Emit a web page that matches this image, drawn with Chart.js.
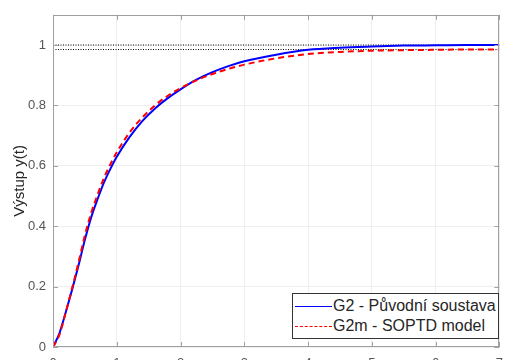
<!DOCTYPE html>
<html>
<head>
<meta charset="utf-8">
<script src="https://cdn.jsdelivr.net/npm/chart.js@4/dist/chart.umd.min.js"></script>
<style>
  html, body { margin: 0; padding: 0; background: #fff; overflow: hidden; }
  #wrap { position: relative; width: 512px; height: 372px; }
  #legend {
    position: absolute; left: 292px; top: 293px; width: 207px; height: 46px;
    border: 1px solid #333; background: #fff; box-sizing: border-box;
    font-family: "Liberation Sans", Arial, sans-serif; font-size: 16px; color: #262626;
  }
  .row { position: absolute; left: 0; height: 20px; line-height: 20px; white-space: nowrap; }
  .sample { position: absolute; left: 2px; top: 10px; width: 37px; height: 0; }
  .lbl { position: absolute; left: 40px; top: 0; }
</style>
</head>
<body>
<div id="wrap">
  <canvas id="c" width="512" height="372"></canvas>
  <div id="legend"></div>
</div>
<script>
// ---- data ----
const tValues    = [0, 0.1, 0.2, 0.3, 0.4, 0.5, 0.6, 0.7, 0.8, 0.9, 1.0, 1.2, 1.4, 1.6, 1.8, 2.0, 2.25, 2.5, 2.75, 3.0, 3.5, 4.0, 4.5, 5.0, 5.5, 6.0, 6.5, 7.0];
const g2Values   = [0, 0.045, 0.115, 0.19, 0.27, 0.355, 0.43, 0.49, 0.545, 0.59, 0.63, 0.695, 0.748, 0.79, 0.824, 0.853, 0.885, 0.91, 0.93, 0.946, 0.968, 0.984, 0.991, 0.995, 0.998, 0.999, 1.0, 1.0];
const g2mValues  = [0, 0.04, 0.115, 0.195, 0.28, 0.37, 0.445, 0.505, 0.56, 0.605, 0.645, 0.71, 0.76, 0.8, 0.832, 0.857, 0.883, 0.904, 0.921, 0.935, 0.956, 0.970, 0.977, 0.981, 0.983, 0.984, 0.985, 0.985];
const refLevels  = [1.0, 0.985];
const xRange     = [0, 7];
const xTicks     = [0, 1, 2, 3, 4, 5, 6, 7];
const yTicks     = [0, 0.2, 0.4, 0.6, 0.8, 1];
const seriesNames = ['G2 - Původní soustava', 'G2m - SOPTD model'];
const seriesColors = ['#0000ff', '#ff0000'];
const yTitle     = 'Výstup y(t)';

const FONT = '"Liberation Sans", Arial, sans-serif';
const toPts = (ys) => tValues.map((t, i) => ({ x: t, y: ys[i] }));

const datasets = [
  { label: seriesNames[0], data: toPts(g2Values), borderColor: seriesColors[0], borderWidth: 2, pointRadius: 0,
    cubicInterpolationMode: 'monotone', fill: false, order: 1 },
  { label: seriesNames[1], data: toPts(g2mValues), borderColor: seriesColors[1], borderWidth: 2, borderDash: [6, 4],
    pointRadius: 0, cubicInterpolationMode: 'monotone', fill: false, order: 0 }
];
refLevels.forEach((v, i) => datasets.push({
  label: 'ref' + i, data: xRange.map(x => ({ x: x, y: v })), borderColor: '#000', borderWidth: 1,
  borderDash: [1, 1.5], pointRadius: 0, fill: false, order: 2 + i
}));

const boxPlugin = {
  id: 'box',
  afterDraw(chart) {
    const { ctx, chartArea: a, scales } = chart;
    ctx.save();
    ctx.strokeStyle = '#a0a0a0';
    ctx.lineWidth = 1;
    ctx.strokeRect(Math.round(a.left) + 0.5, Math.round(a.top) + 0.5,
                   Math.round(a.right - a.left) - 1, Math.round(a.bottom - a.top) - 1);
    const L = 5;
    ctx.beginPath();
    xTicks.forEach(v => {
      const px = Math.round(scales.x.getPixelForValue(v)) + 0.5;
      ctx.moveTo(px, a.bottom); ctx.lineTo(px, a.bottom - L);
      ctx.moveTo(px, a.top); ctx.lineTo(px, a.top + L);
    });
    yTicks.forEach(v => {
      const py = Math.round(scales.y.getPixelForValue(v)) + 0.5;
      ctx.moveTo(a.left, py); ctx.lineTo(a.left + L, py);
      ctx.moveTo(a.right, py); ctx.lineTo(a.right - L, py);
    });
    ctx.stroke();
    ctx.restore();
  }
};

const chart = new Chart(document.getElementById('c'), {
  type: 'line',
  data: { datasets },
  plugins: [boxPlugin],
  options: {
    responsive: false,
    animation: false,
    events: [],
    layout: { padding: { left: 0, right: 4, top: 13, bottom: 0 } },
    plugins: { legend: { display: false }, tooltip: { enabled: false } },
    scales: {
      x: {
        type: 'linear', min: xRange[0], max: xRange[1],
        afterBuildTicks: (s) => { s.ticks = xTicks.map(v => ({ value: v })); },
        afterFit: (s) => { s.height = 25; },
        grid: { color: '#efefef', drawTicks: false },
        border: { display: false },
        ticks: { padding: 9, color: '#555', font: { family: FONT, size: 13 }, maxRotation: 0 }
      },
      y: {
        type: 'linear', min: 0, max: 1.1,
        afterBuildTicks: (s) => { s.ticks = yTicks.map(v => ({ value: v })); },
        afterFit: (s) => { s.width = 53; },
        grid: { color: '#efefef', drawTicks: false },
        border: { display: false },
        ticks: { padding: 7, color: '#555', font: { family: FONT, size: 13 },
                 callback: (v) => String(Math.round(v * 10) / 10) },
        title: { display: true, text: yTitle, color: '#262626', font: { family: FONT, size: 15 },
                 padding: { top: 11, bottom: 0 } }
      }
    }
  }
});

// HTML legend built from the dataset labels
const leg = document.getElementById('legend');
[0, 1].forEach(i => {
  const row = document.createElement('div');
  row.className = 'row';
  row.style.top = (i === 0 ? 2 : 22) + 'px';
  const s = document.createElement('div');
  s.className = 'sample';
  s.style.borderTop = (i === 0 ? '1px solid ' : '1px dashed ') + seriesColors[i];
  const t = document.createElement('span');
  t.className = 'lbl';
  t.textContent = seriesNames[i];
  row.appendChild(s); row.appendChild(t);
  leg.appendChild(row);
});
</script>
</body>
</html>
